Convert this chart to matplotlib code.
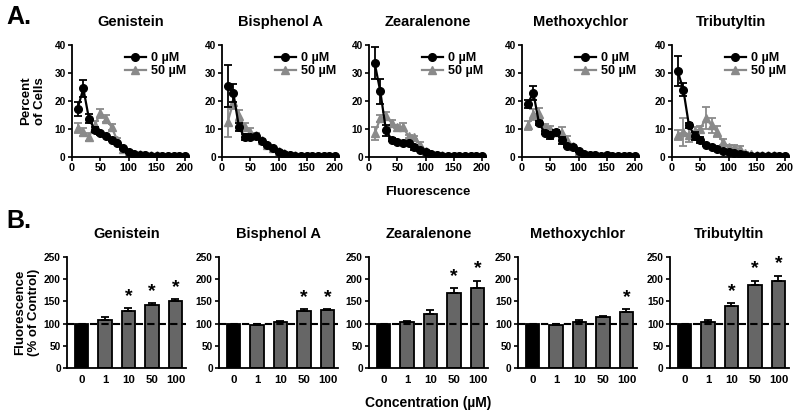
import numpy as np
import matplotlib
matplotlib.use("Agg")
import matplotlib.pyplot as plt

plt.rcParams['font.family'] = ['Liberation Sans', 'DejaVu Sans']
plt.rcParams['font.weight'] = 'bold'

# Panel A data: percent of cells per fluorescence bin
compounds = ['Genistein', 'Bisphenol A', 'Zearalenone', 'Methoxychlor', 'Tributyltin']
fluor = [10, 20, 30, 40, 50, 60, 70, 80, 90, 100, 110, 120, 130, 140, 150, 160, 170, 180, 190, 200]

ctrl_mean = {
    'Genistein':    [17.3, 24.5, 13.7, 9.8, 8.4, 7.4, 6.2, 5.0, 3.2, 1.8, 1.1, 0.8, 0.6, 0.5, 0.4, 0.4, 0.3, 0.3, 0.3, 0.3],
    'Bisphenol A':  [25.3, 22.9, 10.7, 7.1, 7.1, 7.5, 5.6, 4.2, 3.2, 1.8, 1.2, 0.6, 0.4, 0.4, 0.4, 0.4, 0.3, 0.3, 0.3, 0.3],
    'Zearalenone':  [33.6, 23.4, 9.6, 6.2, 5.4, 5.0, 5.0, 3.4, 2.6, 1.8, 1.0, 0.6, 0.5, 0.4, 0.4, 0.3, 0.3, 0.3, 0.3, 0.3],
    'Methoxychlor': [18.9, 23.0, 12.2, 8.7, 7.8, 9.0, 6.0, 3.9, 3.6, 2.1, 1.0, 0.8, 0.6, 0.5, 0.7, 0.4, 0.4, 0.3, 0.3, 0.3],
    'Tributyltin':  [30.7, 24.1, 11.3, 7.5, 6.0, 4.2, 3.6, 2.7, 2.1, 1.8, 1.4, 1.0, 0.6, 0.5, 0.4, 0.4, 0.4, 0.3, 0.3, 0.3],
}
ctrl_err = {
    'Genistein':    [2.5, 3.0, 1.5, 0.8, 0.5, 0.4, 0.4, 0.4, 0.4, 0.3, 0.2, 0.1, 0.1, 0.1, 0.1, 0.1, 0.1, 0.1, 0.1, 0.1],
    'Bisphenol A':  [7.5, 3.2, 1.5, 1.2, 0.8, 0.5, 0.4, 0.3, 0.3, 0.3, 0.2, 0.1, 0.1, 0.1, 0.1, 0.1, 0.1, 0.1, 0.1, 0.1],
    'Zearalenone':  [5.8, 4.5, 2.0, 0.6, 0.4, 0.4, 0.4, 1.0, 0.4, 0.3, 0.2, 0.1, 0.1, 0.1, 0.1, 0.1, 0.1, 0.1, 0.1, 0.1],
    'Methoxychlor': [1.5, 2.5, 0.8, 0.6, 1.2, 0.5, 1.2, 0.5, 0.4, 0.3, 0.2, 0.1, 0.1, 0.1, 0.1, 0.1, 0.1, 0.1, 0.1, 0.1],
    'Tributyltin':  [5.2, 2.3, 1.0, 1.5, 1.0, 0.4, 0.3, 0.3, 0.3, 0.3, 0.2, 0.1, 0.1, 0.1, 0.1, 0.1, 0.1, 0.1, 0.1, 0.1],
}
trt_mean = {
    'Genistein':    [10.4, 9.0, 7.2, 11.3, 15.6, 13.7, 10.7, 6.0, 3.0, 1.8, 1.2, 1.0, 0.8, 0.7, 0.6, 0.5, 0.4, 0.4, 0.3, 0.3],
    'Bisphenol A':  [12.5, 19.6, 14.8, 10.7, 8.9, 7.7, 5.9, 4.2, 3.2, 2.1, 1.4, 0.8, 0.6, 0.5, 0.5, 0.4, 0.4, 0.4, 0.3, 0.3],
    'Zearalenone':  [8.4, 13.8, 14.6, 12.2, 10.8, 10.8, 7.4, 7.0, 4.4, 2.2, 1.2, 0.8, 0.6, 0.5, 0.5, 0.4, 0.4, 0.4, 0.3, 0.3],
    'Methoxychlor': [11.3, 15.2, 15.5, 10.7, 10.1, 9.0, 8.7, 6.0, 3.9, 2.1, 1.2, 0.8, 0.6, 0.5, 0.5, 0.4, 0.4, 0.4, 0.3, 0.3],
    'Tributyltin':  [7.8, 9.0, 8.0, 9.2, 10.0, 13.9, 11.3, 9.0, 5.4, 3.6, 3.3, 3.0, 1.4, 1.0, 0.8, 0.7, 0.6, 0.6, 0.5, 0.5],
}
trt_err = {
    'Genistein':    [1.8, 1.5, 1.5, 1.5, 1.5, 1.2, 1.2, 0.8, 0.5, 0.4, 0.3, 0.2, 0.2, 0.1, 0.1, 0.1, 0.1, 0.1, 0.1, 0.1],
    'Bisphenol A':  [5.5, 2.5, 2.0, 1.5, 1.5, 0.8, 0.6, 0.5, 0.4, 0.4, 0.3, 0.2, 0.1, 0.1, 0.1, 0.1, 0.1, 0.1, 0.1, 0.1],
    'Zearalenone':  [2.3, 1.2, 1.5, 1.0, 0.6, 1.5, 0.6, 0.6, 0.8, 0.4, 0.3, 0.2, 0.1, 0.1, 0.1, 0.1, 0.1, 0.1, 0.1, 0.1],
    'Methoxychlor': [1.5, 2.0, 2.0, 1.0, 0.8, 0.6, 2.0, 1.5, 0.5, 0.4, 0.3, 0.2, 0.1, 0.1, 0.1, 0.1, 0.1, 0.1, 0.1, 0.1],
    'Tributyltin':  [1.8, 5.0, 2.5, 1.5, 1.0, 4.0, 2.8, 2.0, 1.0, 0.6, 1.0, 1.0, 0.3, 0.2, 0.2, 0.1, 0.1, 0.1, 0.1, 0.1],
}

# Panel B data: fluorescence as % of control
conc_labels = ['0', '1', '10', '50', '100']
bar_mean = {
    'Genistein':    [100, 108, 129, 143, 151],
    'Bisphenol A':  [100, 96, 103, 129, 130],
    'Zearalenone':  [100, 103, 121, 168, 180],
    'Methoxychlor': [100, 96, 104, 115, 127],
    'Tributyltin':  [100, 104, 140, 186, 196],
}
bar_err = {
    'Genistein':    [0, 6, 6, 3, 4],
    'Bisphenol A':  [0, 3, 3, 3, 3],
    'Zearalenone':  [0, 2, 10, 12, 17],
    'Methoxychlor': [0, 4, 4, 2, 6],
    'Tributyltin':  [0, 4, 7, 11, 12],
}
signif = {
    'Genistein':    [False, False, True, True, True],
    'Bisphenol A':  [False, False, False, True, True],
    'Zearalenone':  [False, False, False, True, True],
    'Methoxychlor': [False, False, False, False, True],
    'Tributyltin':  [False, False, True, True, True],
}

W, H = 800, 415
fig = plt.figure(figsize=(8, 4.15), dpi=100)

top_left = [72, 222, 369, 522, 672]
bot_left = [67, 219, 369, 518, 670]
gray_line = '#8a8a8a'
gray_bar = '#666666'


def style(ax):
    for s in ['top', 'right']:
        ax.spines[s].set_visible(False)
    for s in ['left', 'bottom']:
        ax.spines[s].set_linewidth(1.3)
    ax.tick_params(width=1.2, length=3, labelsize=7.3, pad=1.5)
    for lab in ax.get_xticklabels() + ax.get_yticklabels():
        lab.set_fontweight('bold')


for i, name in enumerate(compounds):
    ax = fig.add_axes([top_left[i] / W, 1 - 157 / H, 117 / W, 112 / H])
    e0 = ax.errorbar(fluor, ctrl_mean[name], yerr=ctrl_err[name], color='black', lw=1.6,
                     marker='o', ms=5.5, capsize=3, elinewidth=1.3, capthick=1.3, zorder=3)
    e1 = ax.errorbar(fluor, trt_mean[name], yerr=trt_err[name], color=gray_line, lw=1.6,
                     marker='^', ms=6, capsize=3, elinewidth=1.3, capthick=1.3, zorder=2)
    ax.set_xlim(0, 207)
    ax.set_ylim(0, 40)
    ax.set_xticks([0, 50, 100, 150, 200])
    ax.set_yticks([0, 10, 20, 30, 40])
    style(ax)
    ax.tick_params(axis='x', labelsize=7.8)
    ax.set_title(name, fontsize=10.5, fontweight='bold', pad=14)
    leg = ax.legend([e0[0], e1[0]], ['0 µM', '50 µM'], loc='upper right',
                    bbox_to_anchor=(1.02, 0.98), frameon=False,
                    fontsize=9, handlelength=1.7, handletextpad=0.4,
                    labelspacing=0.1, borderaxespad=0)
    for t in leg.get_texts():
        t.set_fontweight('bold')
    if i == 0:
        ax.set_ylabel('Percent\nof Cells', fontsize=9.5, fontweight='bold', labelpad=6)
    if i == 2:
        ax.set_xlabel('Fluorescence', fontsize=9.5, fontweight='bold', labelpad=9)

x = np.arange(len(conc_labels))
for i, name in enumerate(compounds):
    ax = fig.add_axes([bot_left[i] / W, 1 - 368 / H, 119 / W, 111 / H])
    colors = ['black'] + [gray_bar] * 4
    ax.bar(x, bar_mean[name], width=0.58, color=colors, edgecolor='black', linewidth=1.3, zorder=2)
    ax.errorbar(x[1:], bar_mean[name][1:], yerr=[np.zeros(4), bar_err[name][1:]],
                fmt='none', ecolor='black', elinewidth=1.3, capsize=3, capthick=1.3, zorder=3)
    ax.axhline(100, color='black', lw=1.5, ls=(0, (3.5, 2)), zorder=4)
    for j in range(len(x)):
        if signif[name][j]:
            ax.text(x[j], bar_mean[name][j] + bar_err[name][j] + 7, '*', ha='center',
                    va='bottom', fontsize=14, fontweight='bold')
    ax.set_xlim(-0.62, 4.45)
    ax.set_ylim(0, 250)
    ax.set_xticks(x)
    ax.set_xticklabels(conc_labels)
    ax.set_yticks([0, 50, 100, 150, 200, 250])
    style(ax)
    ax.tick_params(axis='x', length=0, pad=5, labelsize=8.2)
    ax.set_title(name, fontsize=10.5, fontweight='bold', pad=14)
    if i == 0:
        ax.set_ylabel('Fluorescence\n(% of Control)', fontsize=9.5, fontweight='bold', labelpad=3)
    if i == 2:
        ax.set_xlabel('Concentration (µM)', fontsize=10, fontweight='bold', labelpad=8)

fig.text(0.008, 0.958, 'A.', fontsize=18, fontweight='bold', va='center')
fig.text(0.008, 0.467, 'B.', fontsize=18, fontweight='bold', va='center')

fig.savefig('out.png', dpi=100)
